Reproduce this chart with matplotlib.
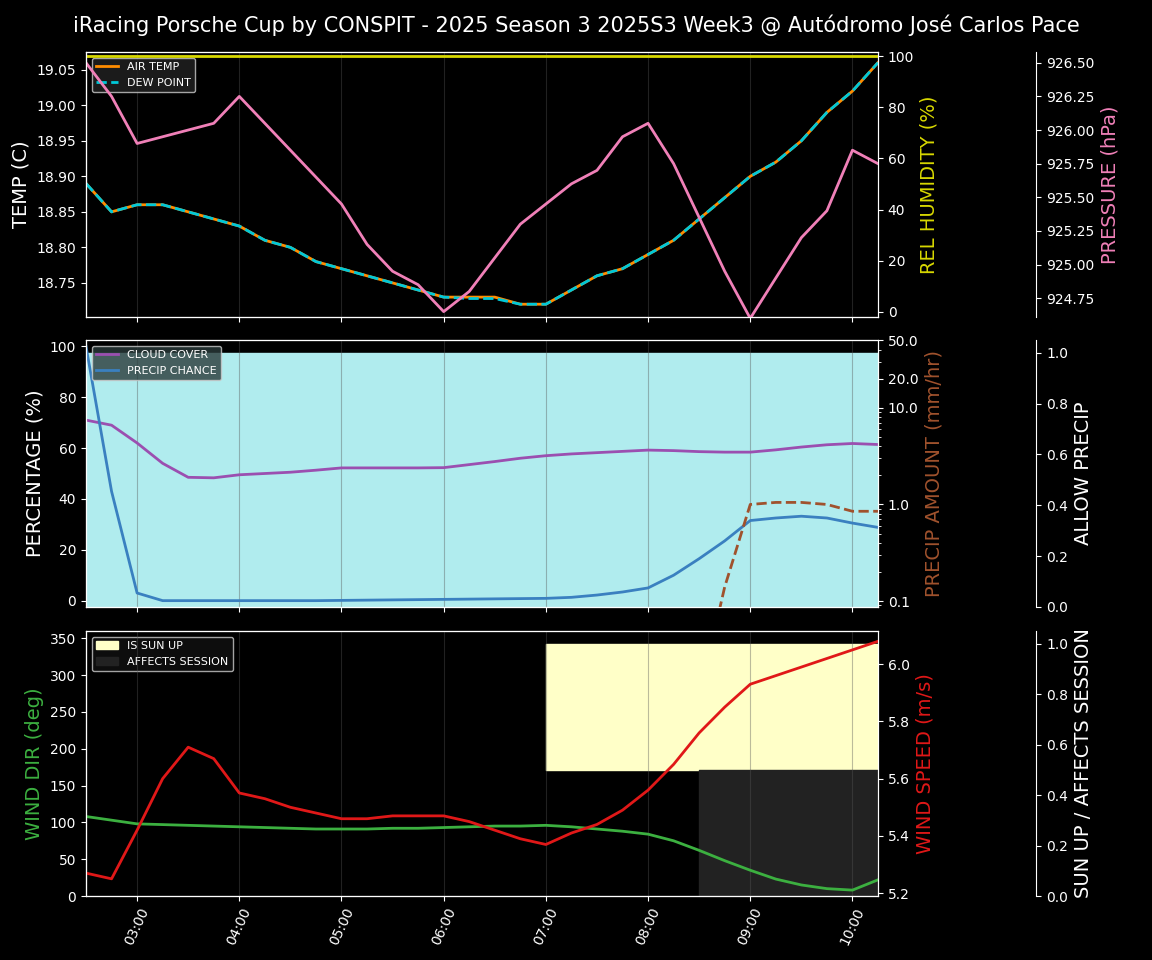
import numpy as np
import pandas as pd
import matplotlib
matplotlib.use("Agg")
from matplotlib import pyplot as plt
import matplotlib.dates as mdates

plt.style.use("dark_background")

times = pd.date_range("2025-01-01 02:30", "2025-01-01 10:15", freq="15min")

air_temp = [18.89, 18.85, 18.86, 18.86, 18.85, 18.84, 18.83, 18.81, 18.80, 18.78, 18.77, 18.76,
            18.75, 18.74, 18.73, 18.73, 18.73, 18.72, 18.72, 18.74, 18.76, 18.77, 18.79, 18.81,
            18.84, 18.87, 18.90, 18.92, 18.95, 18.99, 19.02, 19.06]
dew_point = [18.89, 18.85, 18.86, 18.86, 18.85, 18.84, 18.83, 18.81, 18.80, 18.78, 18.77, 18.76,
             18.75, 18.74, 18.73, 18.728, 18.728, 18.72, 18.72, 18.74, 18.76, 18.77, 18.79, 18.81,
             18.84, 18.87, 18.90, 18.92, 18.95, 18.99, 19.02, 19.06]
humidity = [100] * 32
pressure = [926.5, 926.25, 925.9, 925.95, 926.0, 926.05, 926.25, 926.05, 925.85, 925.65, 925.45,
            925.15, 924.95, 924.85, 924.65, 924.8, 925.05, 925.3, 925.45, 925.6, 925.7, 925.95,
            926.05, 925.75, 925.35, 924.95, 924.6, 924.9, 925.2, 925.4, 925.85, 925.75]

cloud_cover = [71, 69, 62, 54, 48.5, 48.3, 49.5, 50, 50.5, 51.3, 52.2, 52.2, 52.2, 52.2, 52.3,
               53.5, 54.7, 56, 57, 57.7, 58.2, 58.7, 59.2, 59, 58.6, 58.4, 58.4, 59.3, 60.4,
               61.3, 61.8, 61.4]
precip_chance = [100, 43, 3, 0, 0, 0, 0, 0, 0, 0, 0.1, 0.2, 0.3, 0.4, 0.5, 0.6, 0.7, 0.8, 0.9,
                 1.3, 2.2, 3.4, 5, 10, 16.5, 23.5, 31.5, 32.5, 33.2, 32.5, 30.5, 28.8]
precip_amount = [0] * 24 + [0.01, 0.14, 1.0, 1.05, 1.05, 1.0, 0.85, 0.85]
allow_precip = [1] * 32

wind_dir = [108, 103, 98, 97, 96, 95, 94, 93, 92, 91, 91, 91, 92, 92, 93, 94, 95, 95, 96, 94,
            91, 88, 84, 75, 62, 48, 35, 23, 15, 10, 8, 22]
wind_speed = [5.27, 5.25, 5.42, 5.6, 5.71, 5.67, 5.55, 5.53, 5.5, 5.48, 5.46, 5.46, 5.47, 5.47,
              5.47, 5.45, 5.42, 5.39, 5.37, 5.41, 5.44, 5.49, 5.56, 5.65, 5.76, 5.85, 5.93, 5.96,
              5.99, 6.02, 6.05, 6.08]
sun_up = [0] * 18 + [1] * 14
affects_session = [0] * 24 + [1] * 8

fig = plt.figure(figsize=(11.52, 9.6), dpi=100)
fig.suptitle("iRacing Porsche Cup by CONSPIT - 2025 Season 3 2025S3 Week3 @ Autódromo José Carlos Pace",
             fontsize=15, y=0.985)
L, W = 86 / 1152, 792 / 1152
def box(top, bot):
    return [L, 1 - bot / 960, W, (bot - top) / 960]
ax1 = fig.add_axes(box(52, 317))
ax2 = fig.add_axes(box(340, 607), sharex=ax1)
ax3 = fig.add_axes(box(631, 896), sharex=ax1)

def third(ax):
    t = ax.twinx()
    t.spines["right"].set_position(("axes", 1.2))
    return t

# top
ax1.plot(times, air_temp, color="#ff8c00", lw=2, label="AIR TEMP")
ax1.plot(times, dew_point, color="#00c8d8", lw=2, ls="--", label="DEW POINT")
ax1.set_ylim(18.702, 19.075)
ax1.set_ylabel("TEMP (C)", fontsize=14)
h1 = ax1.twinx()
h1.plot(times, humidity, color="#d8d800", lw=2)
h1.set_ylim(-2, 101.6)
h1.set_ylabel("REL HUMIDITY (%)", color="#d8d800", fontsize=14)
p1 = third(ax1)
p1.plot(times, pressure, color="#f080b8", lw=2)
p1.set_ylim(924.61, 926.58)
p1.set_ylabel("PRESSURE (hPa)", color="#f080b8", fontsize=14)
ax1.legend(loc="upper left", fontsize=8, facecolor="#222222")

# middle
a2 = third(ax2)
a2.fill_between(times, 0, allow_precip, color="#b0ecee", step="post")
a2.set_ylim(0, 1.05)
a2.set_ylabel("ALLOW PRECIP", fontsize=14)
ax2.set_zorder(a2.get_zorder() + 1)
ax2.patch.set_visible(False)
ax2.plot(times, cloud_cover, color="#9b4fb0", lw=2, label="CLOUD COVER")
ax2.plot(times, precip_chance, color="#3a80c0", lw=2, label="PRECIP CHANCE")
ax2.set_ylim(-2.5, 102.5)
ax2.set_ylabel("PERCENTAGE (%)", fontsize=14)
pa = ax2.twinx()
amt = np.array(precip_amount, dtype=float)
amt[amt <= 0] = np.nan
pa.plot(times, amt, color="#a0522d", lw=2, ls="--")
pa.set_yscale("log")
pa.set_ylim(0.0867, 50.5)
pa.set_yticks([0.1, 1.0, 10.0, 20.0, 50.0])
pa.set_yticklabels(["0.1", "1.0", "10.0", "20.0", "50.0"])
pa.set_ylabel("PRECIP AMOUNT (mm/hr)", color="#a0522d", fontsize=14)
ax2.legend(loc="upper left", fontsize=8, facecolor="#2a3a3a")

# bottom
s3 = third(ax3)
sun = np.array(sun_up, dtype=bool)
aff = np.array(affects_session, dtype=bool)
s3.fill_between(times, 0.5, 1.0, where=sun, color="#ffffc8", step="post", label="IS SUN UP")
s3.fill_between(times, 0, 0.5, where=aff, color="#222222", step="post", label="AFFECTS SESSION")
s3.set_ylim(0, 1.05)
s3.set_ylabel("SUN UP / AFFECTS SESSION", fontsize=14)
ax3.set_zorder(s3.get_zorder() + 1)
ax3.patch.set_visible(False)
ax3.plot(times, wind_dir, color="#3cb040", lw=2)
ax3.set_ylim(0, 360)
ax3.set_ylabel("WIND DIR (deg)", color="#3cb040", fontsize=14)
ws = ax3.twinx()
ws.plot(times, wind_speed, color="#e01818", lw=2)
ws.set_ylim(5.19, 6.116)
ws.set_ylabel("WIND SPEED (m/s)", color="#e01818", fontsize=14)
s3.legend(loc="upper left", fontsize=8, facecolor="#111111", bbox_to_anchor=(-0.2 / 1.0 * 0 + 0.0, 1.0))

for ax in (ax1, ax2, ax3):
    ax.grid(axis="x", color="#555555", alpha=0.4)
ax1.set_xlim(times[0], times[-1])
ax3.xaxis.set_major_locator(mdates.HourLocator())
ax3.xaxis.set_major_formatter(mdates.DateFormatter("%H:%M"))
plt.setp(ax1.get_xticklabels(), visible=False)
plt.setp(ax2.get_xticklabels(), visible=False)
plt.setp(ax3.get_xticklabels(), rotation=65)

fig.savefig("out.png", dpi=100, facecolor="black")
